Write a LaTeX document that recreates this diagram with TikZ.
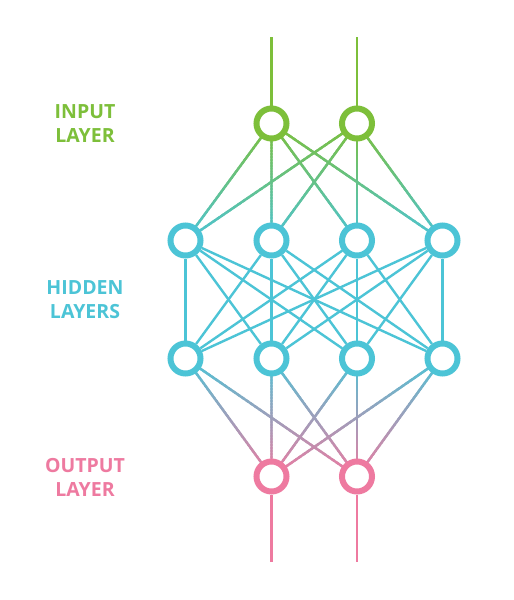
\documentclass[tikz,border=0pt]{standalone}
\usepackage{fontspec}
\setmainfont{Open Sans}
\usetikzlibrary{calc,backgrounds}
\definecolor{cgreen}{HTML}{7DBF3A}
\definecolor{ccyan}{HTML}{4CC4D6}
\definecolor{cpink}{HTML}{EE7AA0}
\tikzset{
  neuron/.style={circle, draw=#1, line width=6pt, fill=white, minimum size=30pt, inner sep=0pt},
  edge/.style={line width=2.4pt},
  lbl/.style={font=\fontsize{19.5}{24}\selectfont\bfseries, align=center, text=#1}
}
\newcommand\gradedge[4]{%
  \foreach \gi [evaluate=\gi as \gp using {100-(\gi+0.5)*2.5},
               evaluate=\gi as \ga using {\gi/40},
               evaluate=\gi as \gb using {min((\gi+1.8)/40,1)}] in {0,...,39}
    {\draw[edge, #3!\gp!#4] ($(#1)!\ga!(#2)$) -- ($(#1)!\gb!(#2)$);}%
}
\begin{document}
\begin{tikzpicture}[x=1pt,y=-1pt]
\useasboundingbox (0,0) rectangle (514,600);
% nodes
\node[neuron=cgreen] (i1) at (271.5,123.5) {};
\node[neuron=cgreen] (i2) at (357,123.5) {};
\foreach \n/\x in {1/185.5,2/271.5,3/357,4/442.5}{
  \node[neuron=ccyan] (h\n) at (\x,240.5) {};
  \node[neuron=ccyan] (g\n) at (\x,358.5) {};
}
\node[neuron=cpink] (o1) at (271.5,476.5) {};
\node[neuron=cpink] (o2) at (357,476.5) {};
\coordinate (t1) at (271.5,37);
\coordinate (t2) at (357,37);
\coordinate (b1) at (271.5,562);
\coordinate (b2) at (357,562);
% labels
\node[lbl=cgreen] (linput) at (85,123.5) {INPUT\\LAYER};
\node[lbl=ccyan] (lhidden) at (85,300) {HIDDEN\\LAYERS};
\node[lbl=cpink] (loutput) at (85,477) {OUTPUT\\LAYER};
% connectors
\begin{pgfonlayer}{background}
\fill[white] (0,0) rectangle (514,600);
\draw[edge, cgreen] (t1) -- (i1);
\draw[edge, cgreen] (t2) -- (i2);
\draw[edge, cpink] (o1) -- (b1);
\draw[edge, cpink] (o2) -- (b2);
\foreach \u in {1,2}{
  \foreach \v in {1,2,3,4}{
    \gradedge{i\u}{h\v}{cgreen}{ccyan}
  }
}
\foreach \u in {1,2,3,4}{
  \foreach \v in {1,2,3,4}{
    \draw[edge, ccyan] (h\u) -- (g\v);
  }
}
\foreach \u in {1,2,3,4}{
  \foreach \v in {1,2}{
    \gradedge{g\u}{o\v}{ccyan}{cpink}
  }
}
\end{pgfonlayer}
\end{tikzpicture}
\end{document}
